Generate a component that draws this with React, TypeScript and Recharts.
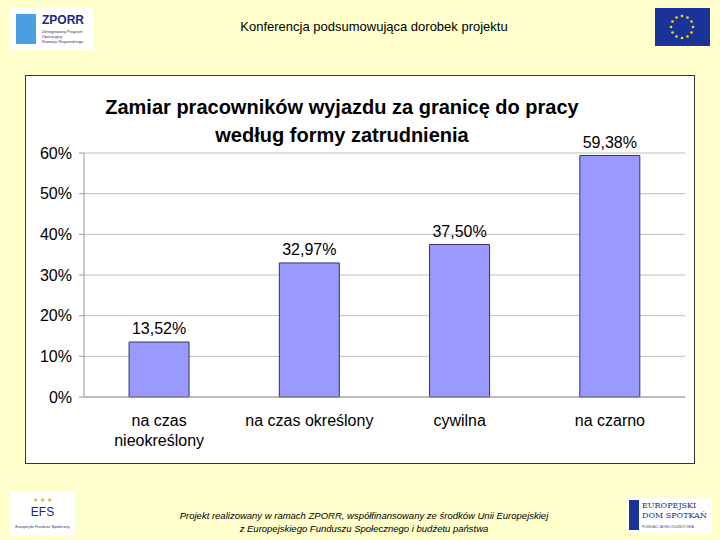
import React from 'react'
import { BarChart, Bar, XAxis, YAxis, CartesianGrid, LabelList } from 'recharts'

const categories = ['na czas\nnieokreślony', 'na czas określony', 'cywilna', 'na czarno']
const shares = [13.52, 32.97, 37.5, 59.38]
const yTicks = [0, 10, 20, 30, 40, 50, 60]
const boundaryTicks = [0, 1, 2, 3, 4]

const data = categories.map((name, i) => ({ name, value: shares[i] }))

const FONT = '"Liberation Sans", Arial, sans-serif'

const CategoryTick = (props: any) => {
  const { x, y, payload } = props
  const lines = String(payload.value).split('\n')
  return (
    <text x={x} y={y} textAnchor="middle" fill="#000" fontSize={16} fontFamily={FONT}>
      {lines.map((l, i) => (
        <tspan key={i} x={x} dy={i === 0 ? 21 : 20}>{l}</tspan>
      ))}
    </text>
  )
}

const EuFlag = () => {
  const stars = Array.from({ length: 12 }, (_, i) => {
    const a = (i / 12) * Math.PI * 2
    return <circle key={i} cx={27 + Math.cos(a) * 11} cy={19 + Math.sin(a) * 11} r={1.3} fill="#FFDD00" />
  })
  return (
    <svg width={55} height={38} style={{ position: 'absolute', left: 655, top: 8 }}>
      <rect width={55} height={38} fill="#1A3399" />
      {stars}
    </svg>
  )
}

export default function App() {
  return (
    <div style={{ position: 'absolute', left: 0, top: 0, width: 720, height: 540, background: '#FFFFCC', fontFamily: FONT, overflow: 'hidden' }}>
      {/* header */}
      <div style={{ position: 'absolute', left: 10, top: 8, width: 83, height: 42, background: '#fff' }}>
        <div style={{ position: 'absolute', left: 6, top: 6, width: 20, height: 30, background: '#4A9FE0' }} />
        <div style={{ position: 'absolute', left: 32, top: 5, fontSize: 12, fontWeight: 'bold', color: '#1A2A80' }}>ZPORR</div>
        <div style={{ position: 'absolute', left: 32, top: 21, fontSize: 4, lineHeight: '5px', color: '#335' }}>Zintegrowany Program<br />Operacyjny<br />Rozwoju Regionalnego</div>
      </div>
      <div style={{ position: 'absolute', left: 0, width: 748, top: 19, textAlign: 'center', fontSize: 13, color: '#000' }}>
        Konferencja podsumowująca dorobek projektu
      </div>
      <EuFlag />

      {/* chart box */}
      <div style={{ position: 'absolute', left: 25, top: 75, width: 668, height: 387, background: '#fff', border: '1px solid #333' }}>
        <div style={{ position: 'absolute', left: 0, width: 632, top: 17, textAlign: 'center', fontSize: 20, fontWeight: 'bold', lineHeight: '28px', color: '#000' }}>
          Zamiar pracowników wyjazdu za granicę do pracy<br />według formy zatrudnienia
        </div>
        <BarChart
          width={668}
          height={387}
          data={data}
          margin={{ top: 77, right: 9, left: 0, bottom: 0 }}
          barCategoryGap="30%"
          style={{ position: 'absolute', left: 0, top: 0 }}
        >
          <CartesianGrid vertical={false} stroke="#BFBFBF" />
          <XAxis
            xAxisId="edges"
            type="number"
            domain={[0, 4]}
            ticks={boundaryTicks}
            tick={false}
            axisLine={false}
            tickLine={{ stroke: '#999' }}
            tickSize={5}
            height={0}
          />
          <XAxis
            dataKey="name"
            interval={0}
            tick={<CategoryTick />}
            tickLine={false}
            axisLine={{ stroke: '#999' }}
            height={66}
          />
          <YAxis
            domain={[0, 60]}
            ticks={yTicks}
            tickFormatter={(v) => `${v}%`}
            tick={{ fill: '#000', fontSize: 16, fontFamily: FONT }}
            axisLine={{ stroke: '#999' }}
            tickLine={{ stroke: '#999' }}
            tickSize={5}
            tickMargin={7}
            width={58}
          />
          <Bar dataKey="value" fill="#9999FF" stroke="#333366" strokeWidth={1} isAnimationActive={false}>
            <LabelList
              dataKey="value"
              position="top"
              offset={8}
              formatter={(v: any) => `${Number(v).toFixed(2).replace('.', ',')}%`}
              style={{ fill: '#000', fontSize: 16, fontFamily: FONT }}
            />
          </Bar>
        </BarChart>
      </div>

      {/* footer */}
      <div style={{ position: 'absolute', left: 10, top: 492, width: 65, height: 43, background: '#fff' }}>
        <div style={{ position: 'absolute', left: 0, width: 65, top: 4, textAlign: 'center', fontSize: 6, color: '#E0B000' }}>★ ★ ★</div>
        <div style={{ position: 'absolute', left: 0, width: 65, top: 13, textAlign: 'center', fontSize: 12, color: '#1A2A80' }}>EFS</div>
        <div style={{ position: 'absolute', left: 0, width: 65, top: 32, textAlign: 'center', fontSize: 4, color: '#335' }}>Europejski Fundusz Społeczny</div>
      </div>
      <div style={{ position: 'absolute', left: 0, width: 728, top: 509, textAlign: 'center', fontSize: 9.5, fontStyle: 'italic', lineHeight: '13px', color: '#000' }}>
        Projekt realizowany w ramach ZPORR, współfinansowany ze środków Unii Europejskiej<br />z Europejskiego Funduszu Społecznego i budżetu państwa
      </div>
      <div style={{ position: 'absolute', left: 627, top: 498, width: 85, height: 35, background: '#fff' }}>
        <div style={{ position: 'absolute', left: 2, top: 2, width: 10, height: 30, background: '#1A3399' }} />
        <div style={{ position: 'absolute', left: 15, top: 3, fontSize: 8, lineHeight: '10px', color: '#1A2A80', fontFamily: '"DejaVu Serif", serif' }}>EUROPEJSKI<br />DOM SPOTKAŃ</div>
        <div style={{ position: 'absolute', left: 15, top: 26, fontSize: 4, color: '#557' }}>FUNDACJA MŁODZIEŻOWA</div>
      </div>
    </div>
  )
}
